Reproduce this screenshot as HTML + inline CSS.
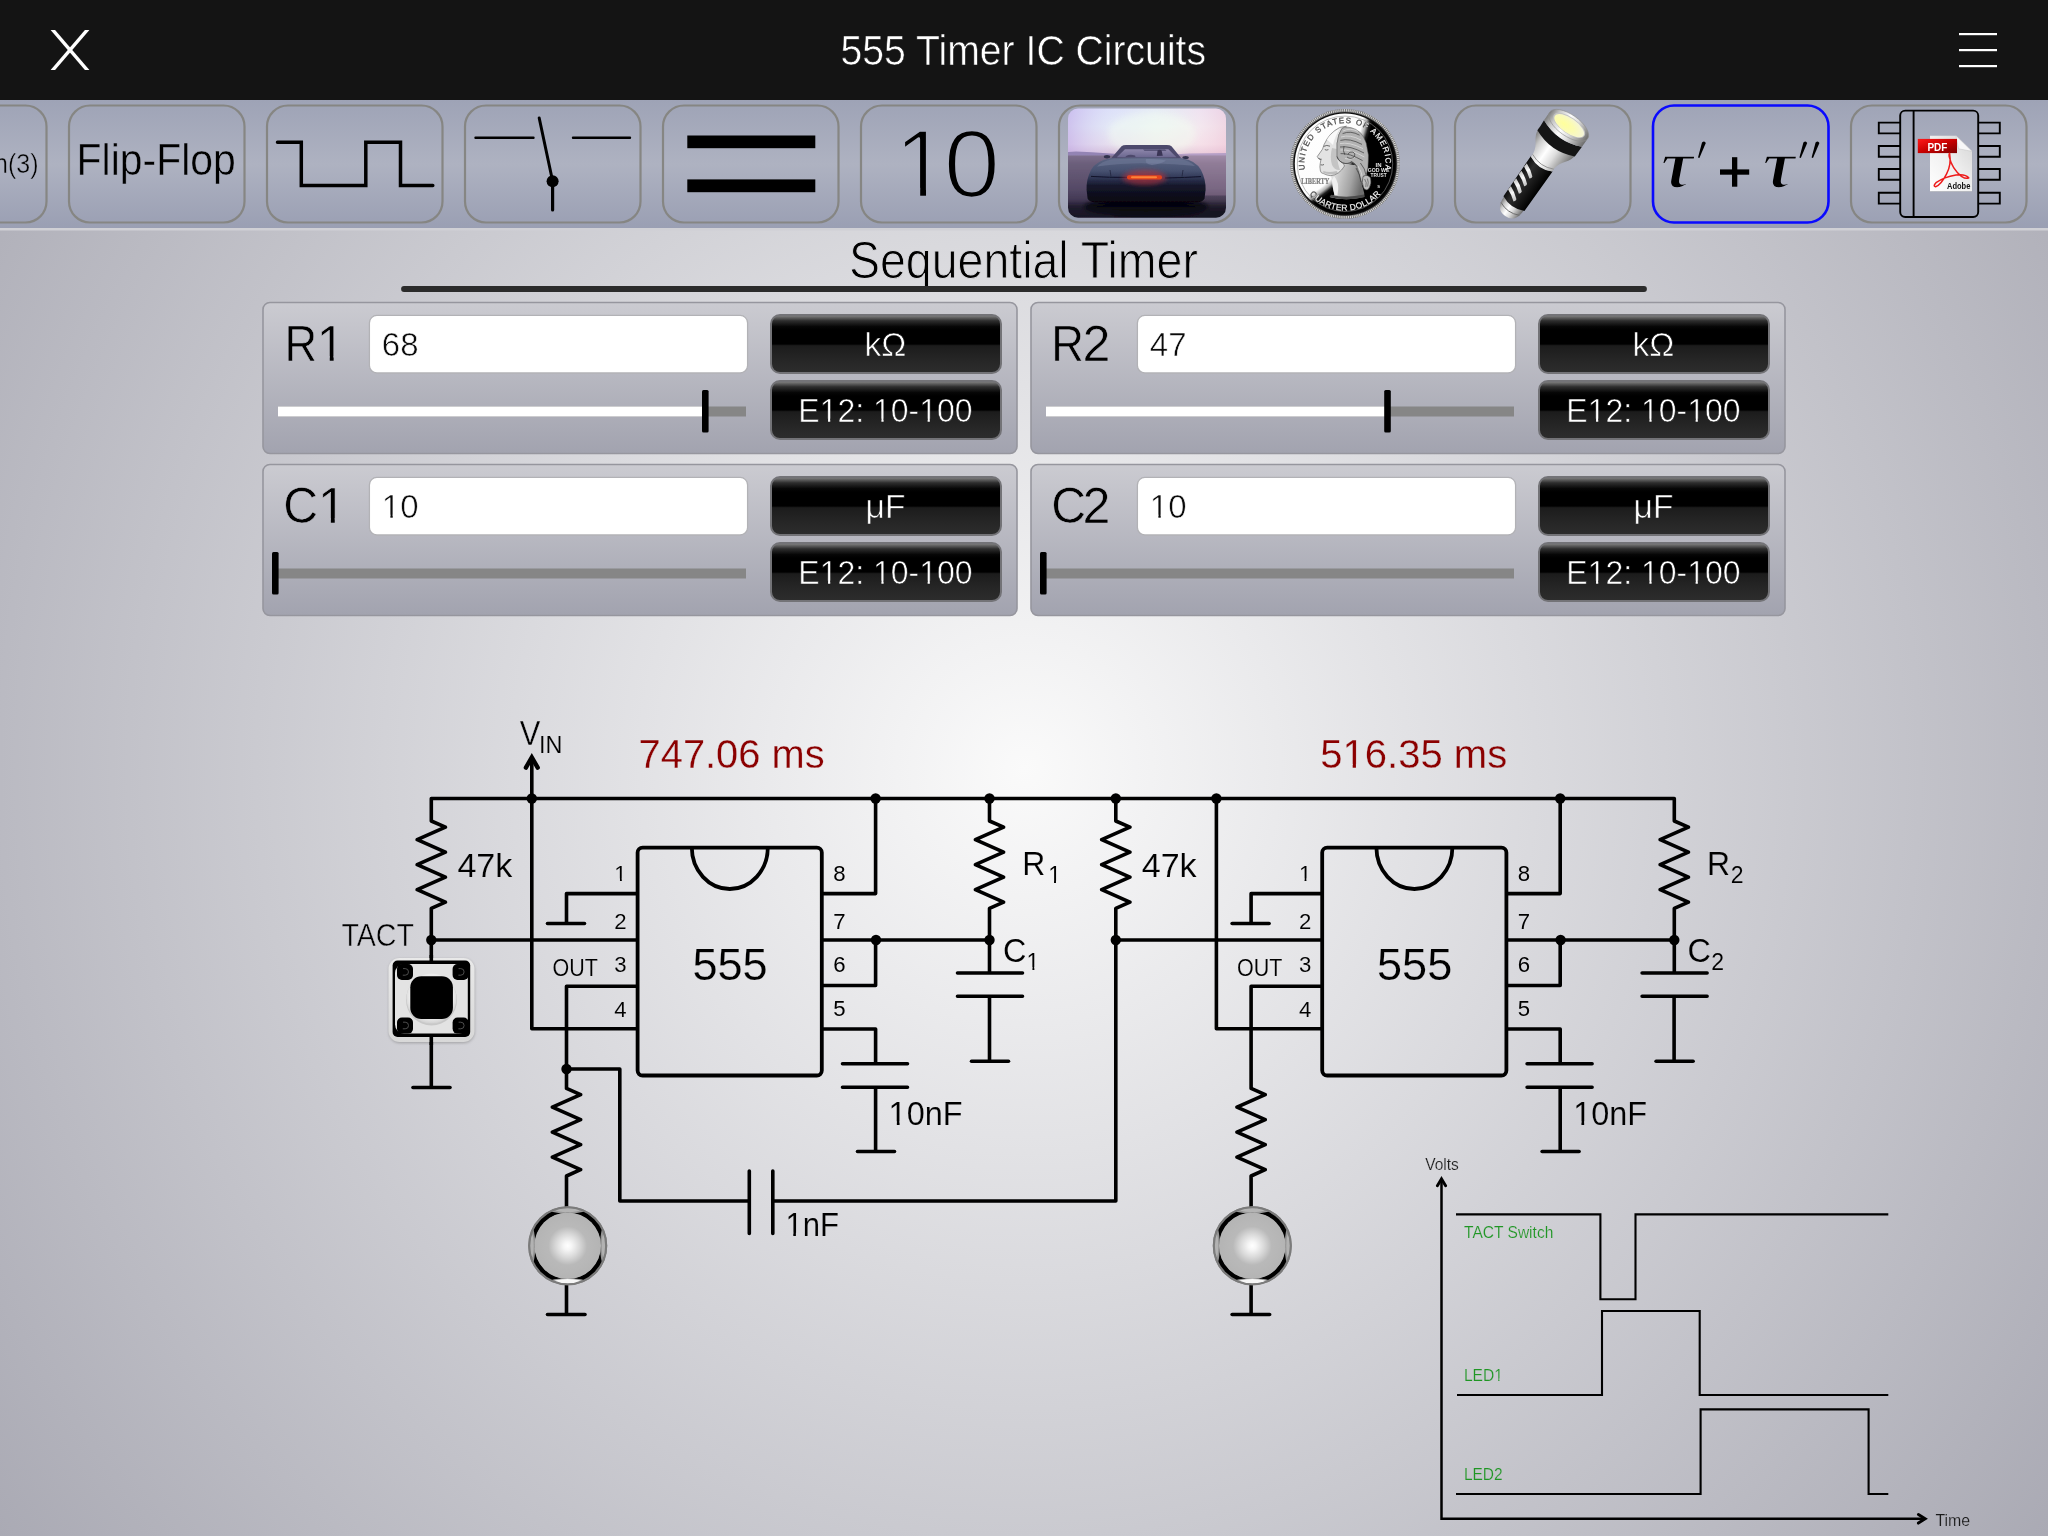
<!DOCTYPE html>
<html><head><meta charset="utf-8"><title>555 Timer IC Circuits</title>
<style>
html,body{margin:0;padding:0;background:#aaaab4;}
body{position:relative;width:2048px;height:1536px;overflow:hidden;font-family:"Liberation Sans",sans-serif;}
svg{display:block;will-change:transform;font-family:"Liberation Sans",sans-serif;}
</style></head><body>
<svg width="2048" height="1536" viewBox="0 0 2048 1536">
<defs>
<radialGradient id="bg" gradientUnits="userSpaceOnUse" cx="1024" cy="768" r="1280">
<stop offset="0" stop-color="#fafafa"/><stop offset="1" stop-color="#aaaab4"/></radialGradient>
<linearGradient id="tb" x1="0" y1="0" x2="0" y2="1">
<stop offset="0" stop-color="#9ea3b6"/><stop offset="0.5" stop-color="#aeb2c1"/><stop offset="1" stop-color="#9a9fb3"/></linearGradient>
<linearGradient id="pn" x1="0" y1="0" x2="0" y2="1">
<stop offset="0" stop-color="#cbcbd1"/><stop offset="1" stop-color="#a2a3af"/></linearGradient>
<linearGradient id="bk" x1="0" y1="0" x2="0" y2="1">
<stop offset="0" stop-color="#4d4d4d"/><stop offset="0.07" stop-color="#2b2b2b"/><stop offset="0.3" stop-color="#151515"/><stop offset="0.5" stop-color="#050505"/><stop offset="0.52" stop-color="#000"/><stop offset="1" stop-color="#000"/></linearGradient>
<linearGradient id="tbu" gradientUnits="userSpaceOnUse" x1="0" y1="100" x2="0" y2="228">
<stop offset="0" stop-color="#9ea3b6"/><stop offset="0.5" stop-color="#aeb2c1"/><stop offset="1" stop-color="#9a9fb3"/></linearGradient>
<linearGradient id="pnu1" gradientUnits="userSpaceOnUse" x1="0" y1="302.5" x2="0" y2="453.5">
<stop offset="0" stop-color="#cbcbd1"/><stop offset="1" stop-color="#a2a3af"/></linearGradient>
<linearGradient id="pnu2" gradientUnits="userSpaceOnUse" x1="0" y1="464.5" x2="0" y2="615.5">
<stop offset="0" stop-color="#cbcbd1"/><stop offset="1" stop-color="#a2a3af"/></linearGradient>

<radialGradient id="ledc" cx="0.5" cy="0.5" r="0.5">
<stop offset="0" stop-color="#ffffff"/><stop offset="0.12" stop-color="#f6f6f6"/><stop offset="0.35" stop-color="#d9d9d9"/><stop offset="0.58" stop-color="#b9b9b9"/><stop offset="1" stop-color="#b4b4b4"/></radialGradient>
<linearGradient id="swb" x1="0" y1="0" x2="0" y2="1"><stop offset="0" stop-color="#e9e9e9"/><stop offset="1" stop-color="#d8d8d8"/></linearGradient>
<radialGradient id="swc" cx="0.5" cy="0.45" r="0.55"><stop offset="0" stop-color="#f4f4f4"/><stop offset="0.8" stop-color="#ececec"/><stop offset="1" stop-color="#d0d0d0"/></radialGradient>
<filter id="sh" x="-20%" y="-20%" width="140%" height="140%"><feGaussianBlur stdDeviation="1.6"/></filter>
<filter id="b1" x="-20%" y="-20%" width="140%" height="140%"><feGaussianBlur stdDeviation="0.7"/></filter>


<!-- car -->
<clipPath id="carclip"><rect x="1068" y="108.6" width="158" height="109.2" rx="10"/></clipPath>
<linearGradient id="sky" x1="0" y1="0" x2="0" y2="1"><stop offset="0" stop-color="#dcdff8"/><stop offset="0.4" stop-color="#e8eef4"/><stop offset="0.72" stop-color="#ecdfe8"/><stop offset="0.9" stop-color="#d4b4cc"/><stop offset="1" stop-color="#b795bd"/></linearGradient>
<linearGradient id="skyh" x1="0" y1="0" x2="1" y2="0"><stop offset="0" stop-color="#bfa8e8" stop-opacity="0.7"/><stop offset="0.3" stop-color="#d8dcff" stop-opacity="0.25"/><stop offset="0.55" stop-color="#f4fff0" stop-opacity="0.3"/><stop offset="0.82" stop-color="#ffe1ea" stop-opacity="0.5"/><stop offset="1" stop-color="#f3c6d8" stop-opacity="0.65"/></linearGradient>
<linearGradient id="gnd" x1="0" y1="0" x2="0" y2="1"><stop offset="0" stop-color="#a08fa8"/><stop offset="0.12" stop-color="#86778e"/><stop offset="0.5" stop-color="#63566e"/><stop offset="0.8" stop-color="#30283e"/><stop offset="1" stop-color="#120e22"/></linearGradient>
<linearGradient id="carb" x1="0" y1="0" x2="0" y2="1"><stop offset="0" stop-color="#5c6684"/><stop offset="0.3" stop-color="#475170"/><stop offset="0.46" stop-color="#2e3553"/><stop offset="0.62" stop-color="#16182c"/><stop offset="1" stop-color="#06050f"/></linearGradient>
<linearGradient id="carw" x1="0" y1="0" x2="0" y2="1"><stop offset="0" stop-color="#8d86ab"/><stop offset="1" stop-color="#6c6890"/></linearGradient>
<radialGradient id="scan" cx="0.5" cy="0.5" r="0.5"><stop offset="0" stop-color="#ff9a3a"/><stop offset="0.5" stop-color="#f2481e"/><stop offset="1" stop-color="#b02428" stop-opacity="0"/></radialGradient>
<filter id="blr06" x="-5%" y="-5%" width="110%" height="110%"><feGaussianBlur stdDeviation="0.7"/></filter>
<filter id="blr2" x="-30%" y="-60%" width="160%" height="220%"><feGaussianBlur stdDeviation="2.2"/></filter>
<filter id="blr3" x="-30%" y="-30%" width="160%" height="160%"><feGaussianBlur stdDeviation="3"/></filter>
<!-- coin -->
<radialGradient id="coinf" gradientUnits="userSpaceOnUse" cx="1256" cy="100.4" r="140"><stop offset="0" stop-color="#fff"/><stop offset="0.775" stop-color="#fdfdfd"/><stop offset="0.803" stop-color="#b0b0b0"/><stop offset="0.826" stop-color="#1c1c1c"/><stop offset="0.845" stop-color="#000"/><stop offset="1" stop-color="#000"/></radialGradient>
<radialGradient id="coint" gradientUnits="userSpaceOnUse" cx="1256" cy="100.4" r="140"><stop offset="0" stop-color="#555"/><stop offset="0.795" stop-color="#4c4c4c"/><stop offset="0.815" stop-color="#f4f4f4"/><stop offset="1" stop-color="#f4f4f4"/></radialGradient>
<linearGradient id="coinh" x1="0" y1="0" x2="1" y2="0.25"><stop offset="0" stop-color="#f1f1f1"/><stop offset="0.35" stop-color="#c9c9c9"/><stop offset="0.7" stop-color="#a3a3a3"/><stop offset="1" stop-color="#6e6e6e"/></linearGradient>
<clipPath id="coinclip"><circle cx="1345" cy="163.8" r="50.3"/></clipPath>
<!-- flashlight -->
<linearGradient id="fls" x1="0" y1="0" x2="1" y2="0"><stop offset="0" stop-color="#7b7b7b"/><stop offset="0.18" stop-color="#c9c9c9"/><stop offset="0.42" stop-color="#ffffff"/><stop offset="0.62" stop-color="#dedede"/><stop offset="0.85" stop-color="#9b9b9b"/><stop offset="1" stop-color="#6c6c6c"/></linearGradient>
<linearGradient id="flb" x1="0" y1="0" x2="1" y2="0"><stop offset="0" stop-color="#0c0c0c"/><stop offset="0.3" stop-color="#2d2d2d"/><stop offset="0.55" stop-color="#1d1d1d"/><stop offset="1" stop-color="#000"/></linearGradient>
<radialGradient id="fll" cx="0.35" cy="0.6" r="0.75"><stop offset="0" stop-color="#ffff9c"/><stop offset="0.45" stop-color="#fbfbb4"/><stop offset="1" stop-color="#f3f3e2"/></radialGradient>
<linearGradient id="flslot" x1="0" y1="0" x2="1" y2="0.6"><stop offset="0" stop-color="#bdbdbd"/><stop offset="0.5" stop-color="#fafafa"/><stop offset="1" stop-color="#c9c9c9"/></linearGradient>
<!-- pdf -->
<linearGradient id="pdfp" x1="0" y1="1" x2="1" y2="0"><stop offset="0" stop-color="#ffffff"/><stop offset="0.5" stop-color="#f0f0f0"/><stop offset="1" stop-color="#d4d4d4"/></linearGradient>
<linearGradient id="pdfr" x1="0" y1="0" x2="1" y2="1"><stop offset="0" stop-color="#ff1a1a"/><stop offset="0.5" stop-color="#c80000"/><stop offset="1" stop-color="#7c0000"/></linearGradient>

</defs>
<rect x="0" y="0" width="2048" height="1536" fill="url(#bg)"/>
<rect x="0" y="0" width="2048" height="100" fill="#141414"/>
<g stroke="#fff" stroke-width="3.4" clip-path="inset(0)"><clipPath id="xc"><rect x="40" y="30" width="60" height="40"/></clipPath><g clip-path="url(#xc)"><line x1="50.7" y1="27.5" x2="89.3" y2="72.5"/><line x1="89.3" y1="27.5" x2="50.7" y2="72.5"/></g></g>
<text x="1023.3" y="65.3" font-size="42.4" text-anchor="middle" fill="#fff" textLength="365.5" lengthAdjust="spacingAndGlyphs" stroke="#141414" stroke-width="0.60" stroke-linejoin="round">555 Timer IC Circuits</text>
<rect x="1959" y="33" width="38" height="2.2" fill="#fff"/>
<rect x="1959" y="49" width="38" height="2.2" fill="#fff"/>
<rect x="1959" y="65" width="38" height="2.2" fill="#fff"/>
<rect x="0" y="100" width="2048" height="128" fill="url(#tb)"/>
<rect x="0" y="228" width="2048" height="2.5" fill="#d0d0d5"/>
<rect x="-129" y="105.5" width="175.5" height="117" rx="21" fill="none" stroke="#868683" stroke-width="2.2"/>
<rect x="69" y="105.5" width="175.5" height="117" rx="21" fill="none" stroke="#868683" stroke-width="2.2"/>
<rect x="267" y="105.5" width="175.5" height="117" rx="21" fill="none" stroke="#868683" stroke-width="2.2"/>
<rect x="465" y="105.5" width="175.5" height="117" rx="21" fill="none" stroke="#868683" stroke-width="2.2"/>
<rect x="663" y="105.5" width="175.5" height="117" rx="21" fill="none" stroke="#868683" stroke-width="2.2"/>
<rect x="861" y="105.5" width="175.5" height="117" rx="21" fill="none" stroke="#868683" stroke-width="2.2"/>
<rect x="1059" y="105.5" width="175.5" height="117" rx="21" fill="none" stroke="#868683" stroke-width="2.2"/>
<rect x="1257" y="105.5" width="175.5" height="117" rx="21" fill="none" stroke="#868683" stroke-width="2.2"/>
<rect x="1455" y="105.5" width="175.5" height="117" rx="21" fill="none" stroke="#868683" stroke-width="2.2"/>
<rect x="1653" y="105.5" width="175.5" height="117" rx="21" fill="none" stroke="#0a0aff" stroke-width="2.6"/>
<rect x="1851" y="105.5" width="175.5" height="117" rx="21" fill="none" stroke="#868683" stroke-width="2.2"/>
<text x="38.6" y="172.65" font-size="28.5" text-anchor="end" textLength="44.5" lengthAdjust="spacingAndGlyphs" stroke="url(#tbu)" stroke-width="0.50" stroke-linejoin="round">n(3)</text>
<text x="76.6" y="175.15" font-size="45.2" textLength="159.2" lengthAdjust="spacingAndGlyphs" stroke="url(#tbu)" stroke-width="0.50" stroke-linejoin="round">Flip-Flop</text>
<path d="M277.5,142.3 H301.3 V185.5 H365.8 V142.3 H400.5 V185.5 H432.8" fill="none" stroke="#000" stroke-width="3.5" stroke-linecap="round" stroke-linejoin="miter"/>
<g fill="none" stroke="#000" stroke-linecap="round"><path d="M475.5,137.8 H533.5 M573,137.8 H630" stroke-width="2.4"/><path d="M539.2,118 L552.6,181" stroke-width="3"/><path d="M552.6,181 V210" stroke-width="3.2"/></g><circle cx="552.6" cy="181.3" r="6" fill="#000"/>
<rect x="687.3" y="135.5" width="128" height="12.7" fill="#000"/><rect x="687.3" y="179.4" width="128" height="12.8" fill="#000"/>
<text x="894.6" y="197.15" font-size="96.4" stroke="url(#tbu)" stroke-width="2.70" stroke-linejoin="round">1</text><rect x="899.29" y="187.80" width="20.90" height="10.35" fill="url(#tbu)"/><rect x="926.01" y="187.80" width="20.14" height="10.35" fill="url(#tbu)"/>
<text x="943.4" y="197.15" font-size="96.4" textLength="56.6" lengthAdjust="spacingAndGlyphs" stroke="url(#tbu)" stroke-width="2.70" stroke-linejoin="round">0</text>
<g clip-path="url(#carclip)"><g filter="url(#blr06)">
<rect x="1064" y="104" width="166" height="56" fill="url(#sky)"/>
<rect x="1064" y="104" width="166" height="56" fill="url(#skyh)"/>
<ellipse cx="1152" cy="134" rx="44" ry="22" fill="#f4fff2" opacity="0.4" filter="url(#blr3)"/>
<path d="M1064,152.3 L1076,151.4 L1092,152.2 L1110,153.6 L1122,154.2 L1122,158 L1064,158 Z" fill="#9384b4"/>
<path d="M1176,154.2 L1190,153.4 L1210,153.2 L1230,153 L1230,158 L1176,158 Z" fill="#b59fc6"/>
<rect x="1064" y="155.5" width="166" height="66" fill="url(#gnd)"/>
<rect x="1064" y="155.5" width="50" height="66" fill="#3c3458" opacity="0.35"/>
<rect x="1180" y="155.5" width="50" height="40" fill="#a487aa" opacity="0.35"/>
<ellipse cx="1146" cy="207" rx="62" ry="9" fill="#05030f" filter="url(#blr2)"/>
<rect x="1064" y="204" width="166" height="16" fill="#0a0718" opacity="0.55" filter="url(#blr2)"/>
<path d="M1121.5,146.2 Q1123,144.9 1126,144.9 L1167,144.9 Q1170,144.9 1171.5,146.2 L1181.5,158.6 L1111,158.6 Z" fill="#4e4a6c"/>
<path d="M1125,149.3 L1168.4,149.3 L1176.5,157.2 L1116.8,157.2 Z" fill="url(#carw)"/>
<path d="M1143,149.2 h22 l1.5,1.8 h-22 Z" fill="#5a567a"/>
<path d="M1157.6,150.2 q2.2,-1.2 4,0.3 l1.2,5.2 l-6,0.4 Z" fill="#3b3656"/>
<path d="M1126,156 q4,-2.4 9,-0.6 l0.5,1.6 h-10 Z" fill="#4d4a6c"/>
<ellipse cx="1107" cy="156.8" rx="3.2" ry="1.7" fill="#33334d"/><ellipse cx="1185.6" cy="157.6" rx="3.2" ry="1.7" fill="#33334d"/>
<path d="M1111,158.2 Q1146,156.6 1182,158.2 Q1196,160.5 1201,170 Q1206,180 1205.6,190 L1204.5,198.5 Q1203,202 1196,202.8 L1096,202.8 Q1089,202 1087.6,198.5 L1086.6,190 Q1086,180 1091,170 Q1096,160.5 1111,158.2 Z" fill="url(#carb)"/>
<path d="M1112,159.2 Q1146,157.6 1181,159.2 Q1190,161 1195,166 Q1160,163 1146,163.4 Q1125,163 1097,166.5 Q1102,161 1112,159.2 Z" fill="#6a7391" opacity="0.75"/>
<path d="M1146,159 q14,-0.5 20,1.5 q-4,3 -14,4.5 q-8,-1 -6,-6 Z" fill="#7a84a3" opacity="0.6"/>
<path d="M1091,176.4 Q1110,177.6 1127,177.4 M1165,178 Q1186,177.6 1201,176.6" stroke="#11122a" stroke-width="1" fill="none"/>
<path d="M1110,170 l1,6.5 M1183,170 l-1,6.5" stroke="#1c1f38" stroke-width="0.7" fill="none"/>
<ellipse cx="1144.5" cy="177.5" rx="22" ry="7.5" fill="#c0303a" opacity="0.55" filter="url(#blr2)"/>
<rect x="1127" y="175.2" width="35" height="4.2" rx="2" fill="#e2431f" filter="url(#blr06)"/>
<rect x="1131" y="176.2" width="26" height="2" rx="1" fill="#ff8a3c" opacity="0.9"/>
</g></g>
<circle cx="1345" cy="163.8" r="54.8" fill="#6f6f6f"/>
<circle cx="1345" cy="163.8" r="53.5" fill="none" stroke="#dcdcdc" stroke-width="2.4" stroke-dasharray="0.95 0.95"/>
<circle cx="1345" cy="163.8" r="51.6" fill="#0c0c0c"/>
<circle cx="1345" cy="163.8" r="50.2" fill="url(#coinf)"/>
<circle cx="1345" cy="163.8" r="47.7" fill="none" stroke="#8e8e8e" stroke-width="0.7" opacity="0.85"/>
<g clip-path="url(#coinclip)">
<path d="M1352,168 Q1373,176 1371,197 L1340,201 Z" fill="#000" opacity="0.6" filter="url(#b1)"/>
<path d="M1330.8,175 L1331.9,179.9 L1332.9,187.7 L1334.5,195.3 L1329.6,197 Q1346,201.4 1364.4,197 L1364.2,192.9 Q1362,185 1360,177.3 Q1358,170 1356.9,165 L1338,164 Z" fill="url(#coinh)"/>
<path d="M1329.6,197 Q1346,201.4 1364.4,197 L1364,194.6 Q1346,198.6 1331,194.8 Z" fill="#4a4a4a"/>
<path d="M1334,176 Q1340,182 1337.5,195 L1334.5,195.3 L1332.9,187.7 L1331.9,179.9 Z" fill="#f2f2f2" opacity="0.9"/>
<path d="M1346.5,126.2 Q1339,126.5 1335,130.4 Q1330,134 1327.2,138.8 L1324.1,144.5 L1322.5,149.2 L1317.3,156.5 Q1317.6,158.8 1320.9,159.6 L1320.2,163.8 L1319.9,166.9 L1320.4,171 Q1321,173.4 1323.5,173.6 Q1327,175.4 1330.8,175.7 Q1339,175 1344.5,166 L1343.3,163.2 Q1337,160 1337.1,156.5 L1337.1,143.4 Q1338,134 1342,128.5 Z" fill="#e3e3e3" stroke="#707070" stroke-width="0.7" stroke-linejoin="round"/>
<g filter="url(#b1)">
<path d="M1332,148 Q1329.6,157 1332,165 Q1334.6,170.6 1340,170 Q1336.4,160 1336.8,149 Z" fill="#a0a0a0" opacity="0.45"/>
<path d="M1323,172.6 Q1329,175.6 1338,173.4 L1336.6,171 Q1329,173 1323.4,171 Z" fill="#9a9a9a" opacity="0.5"/>
<path d="M1327,139.5 Q1332,132 1340,128.6 Q1335,136 1333,145 Z" fill="#fafafa"/>
</g>
<path d="M1323.6,146.4 q3.2,-1.8 6.4,-0.2 M1324.8,149.6 q1.8,1 3.6,0 M1318.6,158.6 q1.6,1 3,0.6 M1320.6,164.8 q2,0.6 3.4,-0.3" stroke="#4c4c4c" stroke-width="0.8" fill="none"/>
<path d="M1342,128.5 Q1346.5,125.3 1355.8,129.4 Q1361,132 1363.6,137.2 Q1367,143 1367.3,149.2 Q1369,155 1368.3,160.6 Q1368.5,168 1366.5,174 Q1368.5,178 1367.3,180 L1362.1,185.1 Q1361,181 1360,177.3 Q1358.5,171 1356.9,166.9 Q1354,163 1351.7,161.7 Q1347,164.8 1343.3,163.2 Q1337,160 1337.1,156.5 L1337.1,143.4 Q1338,134 1342,128.5 Z" fill="#b2b2b2" stroke="#555" stroke-width="0.5"/>
<g fill="none" stroke="#dedede" stroke-width="1" opacity="0.75"><path d="M1343,131 q7,-3.6 15,0.4 M1341,137 q9,-3 20,3 M1340,143.6 q9,-2 23,5 M1340.4,150 q10,-1 24,7 M1345,158.6 q6,2 10,-1.4 M1358,166 q4,6 4.6,13"/></g>
<g fill="none" stroke="#3f3f3f" stroke-width="0.8" opacity="0.9"><path d="M1342.6,133.6 q8,-3.4 17,1.6 M1340.4,140.4 q9,-2.6 21.6,4 M1340,147 q10,-1.6 24,6 M1340.6,153.6 q9,-0.6 22,7 M1337.1,156.5 q2,6 8,7 q5,0.4 6.6,-1.8 q4,2 5.4,5 M1347,157 q4,3 7.4,-0.4 q1.6,-3 -1.4,-4.6 q-3.6,-0.6 -5,2 M1356,168 q4,6 5,14 M1360.4,163 q5,6 5.6,12 M1344,146 q-1.6,5 1,9"/></g>
<path d="M1363,176.4 q5,-2.6 7.6,1.6 q1.4,5.6 -1.6,10.4 q-3,3.4 -5.4,-0.4 q-2.4,-5.6 -0.6,-11.6 Z" fill="#bdbdbd" stroke="#2e2e2e" stroke-width="0.6"/>
<path d="M1364.6,179 q2.6,3 1.2,8 M1367.4,178.6 q1.6,3.6 0.2,8" stroke="#4a4a4a" stroke-width="0.6" fill="none"/>
</g>
<path id="ctop" d="M1304.75,169.82 A40.7,40.7 0 1 1 1385.25,169.82" fill="none"/>
<text font-size="8" fill="url(#coint)" stroke="url(#coint)" stroke-width="0.25"><textPath href="#ctop" textLength="139.9" lengthAdjust="spacing">UNITED STATES OF AMERICA</textPath></text>
<path id="cbot" d="M1309.41,194.19 A46.8,46.8 0 0 0 1380.59,194.19" fill="none"/>
<text font-size="8.5" fill="url(#coint)" stroke="url(#coint)" stroke-width="0.25"><textPath href="#cbot" textLength="80.9" lengthAdjust="spacing">QUARTER DOLLAR</textPath></text>
<text x="1301.2" y="183.9" font-family='"Liberation Serif",serif' font-weight="bold" font-size="8.2" fill="#8a8a8a" stroke="#555" stroke-width="0.2" textLength="28" lengthAdjust="spacingAndGlyphs">LIBERTY</text>
<text x="1378.6" y="167.4" text-anchor="middle" font-weight="bold" font-size="5.4" fill="#e4e4e4" textLength="6" lengthAdjust="spacingAndGlyphs">IN</text>
<text x="1378.6" y="172" text-anchor="middle" font-weight="bold" font-size="5.4" fill="#e4e4e4" textLength="21.5" lengthAdjust="spacingAndGlyphs">GOD WE</text>
<text x="1378.6" y="176.7" text-anchor="middle" font-weight="bold" font-size="5.4" fill="#e4e4e4" textLength="16" lengthAdjust="spacingAndGlyphs">TRUST</text>
<text x="1378.6" y="187.5" text-anchor="middle" font-weight="bold" font-size="4.2" fill="#ddd">S</text>
<g transform="translate(1506.2,214.6) rotate(35)">
<path d="M-12,-13 C-12,-4 -8.8,1.8 0,1.8 C8.8,1.8 12,-4 12,-13 Z" fill="url(#fls)"/>
<path d="M-11.2,-7 Q0,-1.6 11.2,-7" stroke="#6d6d6d" stroke-width="0.9" fill="none"/>
<path d="M-13.4,-62 L-12.8,-13.5 Q0,-7.2 12.8,-13.5 L13.2,-62 Q0,-55.6 -13.4,-62 Z" fill="url(#flb)"/>
<path d="M-12.6,-26 Q-6,-23.4 -0.4,-18.4 Q0.4,-16.4 -1.6,-15 Q-7,-19.4 -12.8,-21.6 Z" fill="url(#flslot)"/>
<path d="M-12.6,-35.4 Q-6,-32.8 -0.4,-27.799999999999997 Q0.4,-25.799999999999997 -1.6,-24.4 Q-7,-28.799999999999997 -12.8,-31.0 Z" fill="url(#flslot)"/>
<path d="M-12.6,-44.6 Q-6,-42.0 -0.4,-37.0 Q0.4,-35.0 -1.6,-33.6 Q-7,-38.0 -12.8,-40.2 Z" fill="url(#flslot)"/>
<path d="M-12.6,-53.8 Q-6,-51.199999999999996 -0.4,-46.199999999999996 Q0.4,-44.199999999999996 -1.6,-42.8 Q-7,-47.199999999999996 -12.8,-49.4 Z" fill="url(#flslot)"/>
<path d="M-12.8,-61.5 Q0,-55.3 12.8,-61.5 L13,-66 C14,-76 22.8,-78 22.8,-90 L-22.8,-90 C-22.8,-78 -14,-76 -13,-66 Z" fill="url(#fls)"/>
<path d="M-12.9,-64.5 Q0,-58.3 12.9,-64.5" stroke="#8a8a8a" stroke-width="0.8" fill="none"/>
<path d="M-22.8,-92 L-22.8,-87 Q0,-76.6 22.8,-87 L23.2,-99 Q0,-88.6 -23.2,-99 Z" fill="#151515"/>
<path d="M-23.2,-99 Q0,-88.6 23.2,-99 L23.2,-109 L-23.2,-109 Z" fill="url(#fls)"/>
<ellipse cx="0" cy="-109" rx="23.2" ry="10.8" fill="url(#fls)"/>
<ellipse cx="0" cy="-109" rx="23.2" ry="10.8" fill="none" stroke="#8f8f8f" stroke-width="0.6"/>
<ellipse cx="0.4" cy="-109.2" rx="18.6" ry="8.2" fill="#c4c4c4"/>
<ellipse cx="0.6" cy="-109" rx="17.4" ry="7.4" fill="url(#fll)"/>
</g>
<text x="1660.8" y="186.8" font-family='"Liberation Serif",serif' font-weight="bold" font-style="italic" font-size="67" textLength="32.6" lengthAdjust="spacingAndGlyphs" stroke="url(#tbu)" stroke-width="1.7">τ</text>
<text x="1762.4" y="186.8" font-family='"Liberation Serif",serif' font-weight="bold" font-style="italic" font-size="67" textLength="32.6" lengthAdjust="spacingAndGlyphs" stroke="url(#tbu)" stroke-width="1.7">τ</text>
<rect x="1720" y="169.4" width="29.2" height="5.3" fill="#000"/><rect x="1732" y="157.2" width="5.3" height="29.5" fill="#000"/>
<path d="M1702.0,142.6 Q1704.3999999999999,140.2 1705.8,143 L1699.3999999999999,158 L1698.0,157.6 Z" fill="#000"/>
<path d="M1803.4,142.6 Q1805.8,140.2 1807.2,143 L1800.8,158 L1799.4,157.6 Z" fill="#000"/>
<path d="M1815.6000000000001,142.6 Q1818.0,140.2 1819.4,143 L1813.0,158 L1811.6000000000001,157.6 Z" fill="#000"/>
<g fill="none" stroke="#000" stroke-width="1.9">
<rect x="1900.2" y="110.6" width="78" height="106.4" rx="5"/>
<path d="M1913.6,110.6 V217"/>
<path d="M1900.2,122.6 H1878.8 V133.4 H1900.2"/>
<path d="M1978.2,122.6 H1999.8 V133.4 H1978.2"/>
<path d="M1900.2,146 H1878.8 V156.8 H1900.2"/>
<path d="M1978.2,146 H1999.8 V156.8 H1978.2"/>
<path d="M1900.2,169 H1878.8 V179.8 H1900.2"/>
<path d="M1978.2,169 H1999.8 V179.8 H1978.2"/>
<path d="M1900.2,192.8 H1878.8 V203.60000000000002 H1900.2"/>
<path d="M1978.2,192.8 H1999.8 V203.60000000000002 H1978.2"/>
</g>
<g transform="translate(0,-3.7)">
<path d="M1930.2,139.8 H1956 L1972.2,155.6 V195.4 H1930.2 Z" fill="#9a9a9a" opacity="0.5" filter="url(#b1)"/>
<path d="M1930,139.4 H1956 L1972,155 V195 H1930 Z" fill="url(#pdfp)"/>
<path d="M1956,139.4 L1972,155 L1958.5,152.5 Z" fill="#f8f8f8" stroke="#c4c4c4" stroke-width="0.5"/>
<rect x="1917.8" y="142.6" width="39.2" height="14.2" fill="url(#pdfr)"/>
<text x="1937.4" y="154.3" text-anchor="middle" font-weight="bold" font-size="11.4" fill="#fff" textLength="20" lengthAdjust="spacingAndGlyphs">PDF</text>
<path d="M1949.6,157 Q1951.6,168 1946.6,177.5 Q1941,188.5 1935.6,190.4 Q1932.6,190 1936,186.4 Q1944,180.5 1956,178.6 Q1966,177.4 1968.8,181.6 Q1966,183 1961.4,180 Q1952,172.6 1949.2,160.4 Q1948.8,157.4 1949.6,157 Z" fill="none" stroke="#ee1c1c" stroke-width="1.5" stroke-linejoin="round"/>
<text x="1970.4" y="193.2" text-anchor="end" font-weight="bold" font-size="9.6" fill="#111" textLength="23.4" lengthAdjust="spacingAndGlyphs">Adobe</text>
</g>
<text x="1023.4" y="277.9" font-size="52" text-anchor="middle" textLength="349" lengthAdjust="spacingAndGlyphs" stroke="url(#bg)" stroke-width="1.00" stroke-linejoin="round">Sequential Timer</text>
<line x1="404" y1="289" x2="1644" y2="289" stroke="#2b2b2b" stroke-width="5.8" stroke-linecap="round"/>
<rect x="263" y="302.5" width="754" height="151" rx="7" fill="url(#pn)" stroke="#96969e" stroke-width="1.6"/>
<text x="284.56" y="361.08" font-size="50.2" textLength="32.6" lengthAdjust="spacingAndGlyphs" stroke="url(#pnu1)" stroke-width="0.56" stroke-linejoin="round">R</text>
<text x="344.78" y="361.08" font-size="50.2" text-anchor="end" stroke="url(#pnu1)" stroke-width="0.56" stroke-linejoin="round">1</text><rect x="319.10" y="356.25" width="10.66" height="5.83" fill="url(#pnu1)"/><rect x="333.64" y="356.25" width="10.27" height="5.83" fill="url(#pnu1)"/>
<rect x="369.4" y="315.4" width="378.2" height="57.6" rx="7.5" fill="#fff" stroke="#b2b2b6" stroke-width="1.3"/>
<text x="381.8" y="356.27" font-size="33" fill="#0a0a0a" stroke="#fff" stroke-width="0.55" stroke-linejoin="round">68</text>
<linearGradient id="bku10" gradientUnits="userSpaceOnUse" x1="0" y1="315.0" x2="0" y2="373.0"><stop offset="0" stop-color="#8c8c8c"/><stop offset="0.035" stop-color="#6a6a6a"/><stop offset="0.1" stop-color="#2e2e2e"/><stop offset="0.2" stop-color="#060606"/><stop offset="0.26" stop-color="#000"/><stop offset="0.5" stop-color="#000"/><stop offset="0.53" stop-color="#1c1c1c"/><stop offset="0.75" stop-color="#252525"/><stop offset="1" stop-color="#2d2d2d"/></linearGradient>
<rect x="771" y="315.0" width="230" height="58" rx="9" fill="url(#bku10)" stroke="#737377" stroke-width="2"/>
<text x="885.5" y="356.21" font-size="33.6" text-anchor="middle" fill="#fff" stroke="url(#bku10)" stroke-width="0.62" stroke-linejoin="round">kΩ</text>
<linearGradient id="bku11" gradientUnits="userSpaceOnUse" x1="0" y1="381.0" x2="0" y2="439.0"><stop offset="0" stop-color="#8c8c8c"/><stop offset="0.035" stop-color="#6a6a6a"/><stop offset="0.1" stop-color="#2e2e2e"/><stop offset="0.2" stop-color="#060606"/><stop offset="0.26" stop-color="#000"/><stop offset="0.5" stop-color="#000"/><stop offset="0.53" stop-color="#1c1c1c"/><stop offset="0.75" stop-color="#252525"/><stop offset="1" stop-color="#2d2d2d"/></linearGradient>
<rect x="771" y="381.0" width="230" height="58" rx="9" fill="url(#bku11)" stroke="#737377" stroke-width="2"/>
<text x="885.5" y="422.21" font-size="33.6" text-anchor="middle" fill="#fff" textLength="174.3" lengthAdjust="spacingAndGlyphs" stroke="url(#bku11)" stroke-width="0.62" stroke-linejoin="round">E12: 10-100</text><rect x="820.51" y="418.71" width="7.53" height="4.50" fill="url(#bku11)"/><rect x="830.25" y="418.71" width="7.28" height="4.50" fill="url(#bku11)"/><rect x="873.86" y="418.71" width="7.54" height="4.50" fill="url(#bku11)"/><rect x="883.60" y="418.71" width="7.29" height="4.50" fill="url(#bku11)"/><rect x="920.09" y="418.71" width="7.53" height="4.50" fill="url(#bku11)"/><rect x="929.83" y="418.71" width="7.28" height="4.50" fill="url(#bku11)"/>
<rect x="278" y="406.5" width="468" height="10" fill="#868686"/>
<rect x="278" y="406.5" width="427.3" height="10" fill="#fff"/>
<rect x="702.0" y="390.0" width="6.6" height="42.5" rx="1.5" fill="#000"/>
<rect x="1031" y="302.5" width="754" height="151" rx="7" fill="url(#pn)" stroke="#96969e" stroke-width="1.6"/>
<text x="1051.36" y="361.08" font-size="50.2" textLength="32.6" lengthAdjust="spacingAndGlyphs" stroke="url(#pnu1)" stroke-width="0.56" stroke-linejoin="round">R</text>
<text x="1110.35" y="361.08" font-size="50.2" text-anchor="end" stroke="url(#pnu1)" stroke-width="0.56" stroke-linejoin="round">2</text>
<rect x="1137.4" y="315.4" width="378.2" height="57.6" rx="7.5" fill="#fff" stroke="#b2b2b6" stroke-width="1.3"/>
<text x="1149.8" y="356.27" font-size="33" fill="#0a0a0a" stroke="#fff" stroke-width="0.55" stroke-linejoin="round">47</text>
<rect x="1539" y="315.0" width="230" height="58" rx="9" fill="url(#bku10)" stroke="#737377" stroke-width="2"/>
<text x="1653.5" y="356.21" font-size="33.6" text-anchor="middle" fill="#fff" stroke="url(#bku10)" stroke-width="0.62" stroke-linejoin="round">kΩ</text>
<rect x="1539" y="381.0" width="230" height="58" rx="9" fill="url(#bku11)" stroke="#737377" stroke-width="2"/>
<text x="1653.5" y="422.21" font-size="33.6" text-anchor="middle" fill="#fff" textLength="174.3" lengthAdjust="spacingAndGlyphs" stroke="url(#bku11)" stroke-width="0.62" stroke-linejoin="round">E12: 10-100</text><rect x="1588.51" y="418.71" width="7.53" height="4.50" fill="url(#bku11)"/><rect x="1598.25" y="418.71" width="7.28" height="4.50" fill="url(#bku11)"/><rect x="1641.86" y="418.71" width="7.54" height="4.50" fill="url(#bku11)"/><rect x="1651.60" y="418.71" width="7.29" height="4.50" fill="url(#bku11)"/><rect x="1688.09" y="418.71" width="7.53" height="4.50" fill="url(#bku11)"/><rect x="1697.83" y="418.71" width="7.28" height="4.50" fill="url(#bku11)"/>
<rect x="1046" y="406.5" width="468" height="10" fill="#868686"/>
<rect x="1046" y="406.5" width="341.5" height="10" fill="#fff"/>
<rect x="1384.2" y="390.0" width="6.6" height="42.5" rx="1.5" fill="#000"/>
<rect x="263" y="464.5" width="754" height="151" rx="7" fill="url(#pn)" stroke="#96969e" stroke-width="1.6"/>
<text x="283.13" y="523.08" font-size="50.2" textLength="34.8" lengthAdjust="spacingAndGlyphs" stroke="url(#pnu2)" stroke-width="0.56" stroke-linejoin="round">C</text>
<text x="345.88" y="523.08" font-size="50.2" text-anchor="end" stroke="url(#pnu2)" stroke-width="0.56" stroke-linejoin="round">1</text><rect x="320.20" y="518.25" width="10.66" height="5.83" fill="url(#pnu2)"/><rect x="334.74" y="518.25" width="10.27" height="5.83" fill="url(#pnu2)"/>
<rect x="369.4" y="477.4" width="378.2" height="57.6" rx="7.5" fill="#fff" stroke="#b2b2b6" stroke-width="1.3"/>
<text x="381.8" y="518.27" font-size="33" fill="#0a0a0a" stroke="#fff" stroke-width="0.55" stroke-linejoin="round">10</text><rect x="382.74" y="514.73" width="7.64" height="4.54" fill="#fff"/><rect x="392.74" y="514.73" width="7.38" height="4.54" fill="#fff"/>
<linearGradient id="bku20" gradientUnits="userSpaceOnUse" x1="0" y1="477.0" x2="0" y2="535.0"><stop offset="0" stop-color="#8c8c8c"/><stop offset="0.035" stop-color="#6a6a6a"/><stop offset="0.1" stop-color="#2e2e2e"/><stop offset="0.2" stop-color="#060606"/><stop offset="0.26" stop-color="#000"/><stop offset="0.5" stop-color="#000"/><stop offset="0.53" stop-color="#1c1c1c"/><stop offset="0.75" stop-color="#252525"/><stop offset="1" stop-color="#2d2d2d"/></linearGradient>
<rect x="771" y="477.0" width="230" height="58" rx="9" fill="url(#bku20)" stroke="#737377" stroke-width="2"/>
<text x="885.5" y="518.21" font-size="33.6" text-anchor="middle" fill="#fff" stroke="url(#bku20)" stroke-width="0.62" stroke-linejoin="round">μF</text>
<linearGradient id="bku21" gradientUnits="userSpaceOnUse" x1="0" y1="543.0" x2="0" y2="601.0"><stop offset="0" stop-color="#8c8c8c"/><stop offset="0.035" stop-color="#6a6a6a"/><stop offset="0.1" stop-color="#2e2e2e"/><stop offset="0.2" stop-color="#060606"/><stop offset="0.26" stop-color="#000"/><stop offset="0.5" stop-color="#000"/><stop offset="0.53" stop-color="#1c1c1c"/><stop offset="0.75" stop-color="#252525"/><stop offset="1" stop-color="#2d2d2d"/></linearGradient>
<rect x="771" y="543.0" width="230" height="58" rx="9" fill="url(#bku21)" stroke="#737377" stroke-width="2"/>
<text x="885.5" y="584.21" font-size="33.6" text-anchor="middle" fill="#fff" textLength="174.3" lengthAdjust="spacingAndGlyphs" stroke="url(#bku21)" stroke-width="0.62" stroke-linejoin="round">E12: 10-100</text><rect x="820.51" y="580.71" width="7.53" height="4.50" fill="url(#bku21)"/><rect x="830.25" y="580.71" width="7.28" height="4.50" fill="url(#bku21)"/><rect x="873.86" y="580.71" width="7.54" height="4.50" fill="url(#bku21)"/><rect x="883.60" y="580.71" width="7.29" height="4.50" fill="url(#bku21)"/><rect x="920.09" y="580.71" width="7.53" height="4.50" fill="url(#bku21)"/><rect x="929.83" y="580.71" width="7.28" height="4.50" fill="url(#bku21)"/>
<rect x="278" y="568.5" width="468" height="10" fill="#868686"/>
<rect x="272.0" y="552.0" width="6.6" height="42.5" rx="1.5" fill="#000"/>
<rect x="1031" y="464.5" width="754" height="151" rx="7" fill="url(#pn)" stroke="#96969e" stroke-width="1.6"/>
<text x="1051.13" y="523.08" font-size="50.2" textLength="34.8" lengthAdjust="spacingAndGlyphs" stroke="url(#pnu2)" stroke-width="0.56" stroke-linejoin="round">C</text>
<text x="1110.35" y="523.08" font-size="50.2" text-anchor="end" stroke="url(#pnu2)" stroke-width="0.56" stroke-linejoin="round">2</text>
<rect x="1137.4" y="477.4" width="378.2" height="57.6" rx="7.5" fill="#fff" stroke="#b2b2b6" stroke-width="1.3"/>
<text x="1149.8" y="518.27" font-size="33" fill="#0a0a0a" stroke="#fff" stroke-width="0.55" stroke-linejoin="round">10</text><rect x="1150.74" y="514.73" width="7.64" height="4.54" fill="#fff"/><rect x="1160.74" y="514.73" width="7.38" height="4.54" fill="#fff"/>
<rect x="1539" y="477.0" width="230" height="58" rx="9" fill="url(#bku20)" stroke="#737377" stroke-width="2"/>
<text x="1653.5" y="518.21" font-size="33.6" text-anchor="middle" fill="#fff" stroke="url(#bku20)" stroke-width="0.62" stroke-linejoin="round">μF</text>
<rect x="1539" y="543.0" width="230" height="58" rx="9" fill="url(#bku21)" stroke="#737377" stroke-width="2"/>
<text x="1653.5" y="584.21" font-size="33.6" text-anchor="middle" fill="#fff" textLength="174.3" lengthAdjust="spacingAndGlyphs" stroke="url(#bku21)" stroke-width="0.62" stroke-linejoin="round">E12: 10-100</text><rect x="1588.51" y="580.71" width="7.53" height="4.50" fill="url(#bku21)"/><rect x="1598.25" y="580.71" width="7.28" height="4.50" fill="url(#bku21)"/><rect x="1641.86" y="580.71" width="7.54" height="4.50" fill="url(#bku21)"/><rect x="1651.60" y="580.71" width="7.29" height="4.50" fill="url(#bku21)"/><rect x="1688.09" y="580.71" width="7.53" height="4.50" fill="url(#bku21)"/><rect x="1697.83" y="580.71" width="7.28" height="4.50" fill="url(#bku21)"/>
<rect x="1046" y="568.5" width="468" height="10" fill="#868686"/>
<rect x="1040.0" y="552.0" width="6.6" height="42.5" rx="1.5" fill="#000"/>
<g fill="none" stroke="#000" stroke-width="3.6" stroke-linejoin="round" stroke-linecap="butt">
<path d="M431.3,962 V908.4 L445.4,902.2 L417.2,889.7 L445.4,877.2 L417.2,864.7 L445.4,852.2 L417.2,839.7 L445.4,827.2 L431.3,821.0 V798.5 H1674.3 V821 L1688.4,827.2 L1660.2,839.7 L1688.4,852.2 L1660.2,864.7 L1688.4,877.2 L1660.2,889.7 L1688.4,902.2 L1674.3,908.4 V973"/>
<path d="M431.3,940 H637"/>
<path d="M431.3,1038 V1087.5"/>
<path d="M413,1087.5 H450" stroke-linecap="round"/>
<path d="M531.8,759 V1028.8 H637"/>
<path d="M525.9,767.6 L531.8,757.4 L537.7,767.6" stroke-width="4.4" stroke-linecap="round" stroke-linejoin="miter"/>
<rect x="637.6" y="847.6" width="184.2" height="227.9" rx="5" stroke-width="3.8"/>
<path d="M691.8,847.6 A38,41.4 0 0 0 767.8,847.6" stroke-width="3.8"/>
<path d="M637,893.6 H566.5 V923.5"/>
<path d="M547.5,923.5 H584.5" stroke-linecap="round"/>
<path d="M637,986.3 H566.5 V1088.4 L580.6,1094.7 L552.4,1107.2 L580.6,1119.7 L552.4,1132.2 L580.6,1144.7 L552.4,1157.2 L580.6,1169.7 L566.5,1176.0 V1210"/>
<path d="M566.5,1282 V1314.5"/>
<path d="M547.5,1314.5 H585" stroke-linecap="round"/>
<path d="M822,893.6 H875.6 V798.5"/>
<path d="M822,940 H989.5"/>
<path d="M822,985.5 H875.6 V940"/>
<path d="M822,1029 H875.6 V1063.7"/>
<path d="M842.5,1063.7 H907.5 M842.5,1087.3 H907.5" stroke-linecap="round"/>
<path d="M875.6,1087.3 V1151.5"/>
<path d="M857.5,1151.5 H894.5" stroke-linecap="round"/>
<path d="M989.5,798.5 V821 L1003.6,827.2 L975.4,839.7 L1003.6,852.2 L975.4,864.7 L1003.6,877.2 L975.4,889.7 L1003.6,902.2 L989.5,908.4 V973"/>
<path d="M957.5,973 H1022.5 M957.5,996.3 H1022.5" stroke-linecap="round"/>
<path d="M989.5,996.3 V1061.3"/>
<path d="M971.5,1061.3 H1008.5" stroke-linecap="round"/>
<rect x="1322.2" y="847.6" width="184.2" height="227.9" rx="5" stroke-width="3.8"/>
<path d="M1376.4,847.6 A38,41.4 0 0 0 1452.4,847.6" stroke-width="3.8"/>
<path d="M1321.6,893.6 H1251.1 V923.5"/>
<path d="M1232.1,923.5 H1269.1" stroke-linecap="round"/>
<path d="M1321.6,986.3 H1251.1 V1088.4 L1265.2,1094.7 L1237.0,1107.2 L1265.2,1119.7 L1237.0,1132.2 L1265.2,1144.7 L1237.0,1157.2 L1265.2,1169.7 L1251.1,1176.0 V1210"/>
<path d="M1251.1,1282 V1314.5"/>
<path d="M1232.1,1314.5 H1269.6" stroke-linecap="round"/>
<path d="M1506.6,893.6 H1560.2 V798.5"/>
<path d="M1506.6,940 H1674.1"/>
<path d="M1506.6,985.5 H1560.2 V940"/>
<path d="M1506.6,1029 H1560.2 V1063.7"/>
<path d="M1527.1,1063.7 H1592.1 M1527.1,1087.3 H1592.1" stroke-linecap="round"/>
<path d="M1560.2,1087.3 V1151.5"/>
<path d="M1542.1,1151.5 H1579.1" stroke-linecap="round"/>
<path d="M1642.1,973 H1707.1 M1642.1,996.3 H1707.1" stroke-linecap="round"/>
<path d="M1674.1,996.3 V1061.3"/>
<path d="M1656.1,1061.3 H1693.1" stroke-linecap="round"/>
<path d="M1115.8,798.5 V821 L1129.9,827.2 L1101.7,839.7 L1129.9,852.2 L1101.7,864.7 L1129.9,877.2 L1101.7,889.7 L1129.9,902.2 L1115.8,908.4 V1201 H772.8"/>
<path d="M1115.8,940 H1321.5"/>
<path d="M749.3,1171 V1233.5 M772.8,1171 V1233.5" stroke-linecap="round"/>
<path d="M749.3,1201 H619.8 V1069 H566.5"/>
<path d="M1216.4,798.5 V1028.8 H1321.5"/>
</g>
<g fill="#000">
<circle cx="531.8" cy="798.5" r="5.2"/>
<circle cx="875.6" cy="798.5" r="5.2"/>
<circle cx="989.5" cy="798.5" r="5.2"/>
<circle cx="1115.8" cy="798.5" r="5.2"/>
<circle cx="1216.4" cy="798.5" r="5.2"/>
<circle cx="1560.2" cy="798.5" r="5.2"/>
<circle cx="431.3" cy="940" r="5.2"/>
<circle cx="876" cy="940" r="5.2"/>
<circle cx="989.5" cy="940" r="5.2"/>
<circle cx="1115.8" cy="940" r="5.2"/>
<circle cx="1560.6" cy="940" r="5.2"/>
<circle cx="1674.3" cy="940" r="5.2"/>
<circle cx="566.5" cy="1069" r="5.2"/>
</g>
<g fill="#000">
<text x="519.8" y="745.05" font-size="34.6" textLength="20.6" lengthAdjust="spacingAndGlyphs" stroke="url(#bg)" stroke-width="0.30" stroke-linejoin="round">V</text>
<text x="538.9" y="753.18" font-size="23" textLength="23.4" lengthAdjust="spacingAndGlyphs" stroke="url(#bg)" stroke-width="0.15" stroke-linejoin="round">IN</text>
<text x="341.4" y="945.95" font-size="31.4" textLength="72.6" lengthAdjust="spacingAndGlyphs" stroke="url(#bg)" stroke-width="0.50" stroke-linejoin="round">TACT</text>
<text x="457.4" y="876.68" font-size="34" textLength="55" lengthAdjust="spacingAndGlyphs" stroke="url(#bg)" stroke-width="0.15" stroke-linejoin="round">47k</text>
<text x="1141.7" y="876.68" font-size="34" textLength="55" lengthAdjust="spacingAndGlyphs" stroke="url(#bg)" stroke-width="0.15" stroke-linejoin="round">47k</text>
<text x="1022.3" y="875.28" font-size="34" textLength="23" lengthAdjust="spacingAndGlyphs" stroke="url(#bg)" stroke-width="0.15" stroke-linejoin="round">R</text>
<text x="1048.2" y="883.35" font-size="23" stroke="url(#bg)" stroke-width="0.10" stroke-linejoin="round">1</text><rect x="1048.60" y="880.78" width="5.43" height="3.57" fill="url(#bg)"/><rect x="1055.97" y="880.78" width="5.25" height="3.57" fill="url(#bg)"/>
<text x="1002.9" y="961.58" font-size="34" textLength="23.4" lengthAdjust="spacingAndGlyphs" stroke="url(#bg)" stroke-width="0.15" stroke-linejoin="round">C</text>
<text x="1026.6" y="969.75" font-size="23" stroke="url(#bg)" stroke-width="0.10" stroke-linejoin="round">1</text><rect x="1027.00" y="967.18" width="5.43" height="3.57" fill="url(#bg)"/><rect x="1034.37" y="967.18" width="5.25" height="3.57" fill="url(#bg)"/>
<text x="888.6" y="1124.67" font-size="33" textLength="74" lengthAdjust="spacingAndGlyphs" stroke="url(#bg)" stroke-width="0.15" stroke-linejoin="round">10nF</text><rect x="889.70" y="1121.37" width="7.14" height="4.30" fill="url(#bg)"/><rect x="899.56" y="1121.37" width="6.89" height="4.30" fill="url(#bg)"/>
<text x="730.05" y="979.5" font-size="44.1" text-anchor="middle" textLength="75.2" lengthAdjust="spacingAndGlyphs" stroke="url(#bg)" stroke-width="0.20" stroke-linejoin="round">555</text>
<text x="575.15" y="975.68" font-size="23.8" text-anchor="middle" textLength="45.4" lengthAdjust="spacingAndGlyphs" stroke="url(#bg)" stroke-width="0.15" stroke-linejoin="round">OUT</text>
<text x="620.5" y="881.05" font-size="22.2" text-anchor="middle" stroke="url(#bg)" stroke-width="0.10" stroke-linejoin="round">1</text><rect x="614.67" y="878.54" width="5.29" height="3.51" fill="url(#bg)"/><rect x="621.82" y="878.54" width="5.12" height="3.51" fill="url(#bg)"/>
<text x="620.5" y="928.95" font-size="22.2" text-anchor="middle" stroke="url(#bg)" stroke-width="0.10" stroke-linejoin="round">2</text>
<text x="620.5" y="972.25" font-size="22.2" text-anchor="middle" stroke="url(#bg)" stroke-width="0.10" stroke-linejoin="round">3</text>
<text x="620.5" y="1016.85" font-size="22.2" text-anchor="middle" stroke="url(#bg)" stroke-width="0.10" stroke-linejoin="round">4</text>
<text x="839.3" y="881.0" font-size="22.2" text-anchor="middle">8</text>
<text x="839.3" y="928.5" font-size="22.2" text-anchor="middle">7</text>
<text x="839.3" y="971.6" font-size="22.2" text-anchor="middle">6</text>
<text x="839.3" y="1016.1" font-size="22.2" text-anchor="middle">5</text>
<text x="1706.9" y="875.28" font-size="34" textLength="23" lengthAdjust="spacingAndGlyphs" stroke="url(#bg)" stroke-width="0.15" stroke-linejoin="round">R</text>
<text x="1730.8000000000002" y="883.35" font-size="23" stroke="url(#bg)" stroke-width="0.10" stroke-linejoin="round">2</text>
<text x="1687.5" y="961.58" font-size="34" textLength="23.4" lengthAdjust="spacingAndGlyphs" stroke="url(#bg)" stroke-width="0.15" stroke-linejoin="round">C</text>
<text x="1711.1999999999998" y="969.75" font-size="23" stroke="url(#bg)" stroke-width="0.10" stroke-linejoin="round">2</text>
<text x="1573.2" y="1124.67" font-size="33" textLength="74" lengthAdjust="spacingAndGlyphs" stroke="url(#bg)" stroke-width="0.15" stroke-linejoin="round">10nF</text><rect x="1574.30" y="1121.37" width="7.14" height="4.30" fill="url(#bg)"/><rect x="1584.16" y="1121.37" width="6.89" height="4.30" fill="url(#bg)"/>
<text x="1414.65" y="979.5" font-size="44.1" text-anchor="middle" textLength="75.2" lengthAdjust="spacingAndGlyphs" stroke="url(#bg)" stroke-width="0.20" stroke-linejoin="round">555</text>
<text x="1259.75" y="975.68" font-size="23.8" text-anchor="middle" textLength="45.4" lengthAdjust="spacingAndGlyphs" stroke="url(#bg)" stroke-width="0.15" stroke-linejoin="round">OUT</text>
<text x="1305.1" y="881.05" font-size="22.2" text-anchor="middle" stroke="url(#bg)" stroke-width="0.10" stroke-linejoin="round">1</text><rect x="1299.27" y="878.54" width="5.29" height="3.51" fill="url(#bg)"/><rect x="1306.42" y="878.54" width="5.12" height="3.51" fill="url(#bg)"/>
<text x="1305.1" y="928.95" font-size="22.2" text-anchor="middle" stroke="url(#bg)" stroke-width="0.10" stroke-linejoin="round">2</text>
<text x="1305.1" y="972.25" font-size="22.2" text-anchor="middle" stroke="url(#bg)" stroke-width="0.10" stroke-linejoin="round">3</text>
<text x="1305.1" y="1016.85" font-size="22.2" text-anchor="middle" stroke="url(#bg)" stroke-width="0.10" stroke-linejoin="round">4</text>
<text x="1523.9" y="881.0" font-size="22.2" text-anchor="middle">8</text>
<text x="1523.9" y="928.5" font-size="22.2" text-anchor="middle">7</text>
<text x="1523.9" y="971.6" font-size="22.2" text-anchor="middle">6</text>
<text x="1523.9" y="1016.1" font-size="22.2" text-anchor="middle">5</text>
<text x="785.4" y="1235.88" font-size="33" textLength="53.6" lengthAdjust="spacingAndGlyphs" stroke="url(#bg)" stroke-width="0.15" stroke-linejoin="round">1nF</text><rect x="786.39" y="1232.68" width="6.90" height="4.20" fill="url(#bg)"/><rect x="795.90" y="1232.68" width="6.66" height="4.20" fill="url(#bg)"/>
</g>
<text x="638.6" y="768.15" font-size="41" fill="#8b0000" textLength="186" lengthAdjust="spacingAndGlyphs" stroke="url(#bg)" stroke-width="0.30" stroke-linejoin="round">747.06 ms</text>
<text x="1320.2" y="768.15" font-size="41" fill="#8b0000" textLength="187" lengthAdjust="spacingAndGlyphs" stroke="url(#bg)" stroke-width="0.30" stroke-linejoin="round">516.35 ms</text><rect x="1344.07" y="764.21" width="8.62" height="4.94" fill="url(#bg)"/><rect x="1355.93" y="764.21" width="8.31" height="4.94" fill="url(#bg)"/>
<g fill="none" stroke="#000" stroke-width="2.5">
<path d="M1441.5,1181 V1518.8 H1923"/>
<path d="M1437.4,1185.8 L1441.5,1178.8 L1445.6,1185.8 M1918.4,1514.5 L1925.2,1518.8 L1918.4,1523.1" stroke-width="2.9" stroke-linecap="round" stroke-linejoin="miter"/>
</g>
<g fill="none" stroke="#000" stroke-width="2.1">
<path d="M1456,1214.4 H1600.4 V1299.2 H1635.5 V1214.4 H1888.3"/>
<path d="M1457,1395 H1602 V1311 H1699.7 V1395 H1888.3"/>
<path d="M1456,1494 H1700.6 V1409.4 H1868.6 V1494 H1888.3"/>
</g>
<text x="1425.2" y="1169.6" font-size="16.7" fill="#1a1a1a" textLength="33.6" lengthAdjust="spacingAndGlyphs" stroke="url(#bg)" stroke-width="0.20" stroke-linejoin="round">Volts</text>
<text x="1935.4" y="1526.1" font-size="16.7" fill="#1a1a1a" textLength="34.8" lengthAdjust="spacingAndGlyphs" stroke="url(#bg)" stroke-width="0.20" stroke-linejoin="round">Time</text>
<text x="1464.1" y="1237.8" font-size="16.9" fill="#1f9624" textLength="89.2" lengthAdjust="spacingAndGlyphs" stroke="url(#bg)" stroke-width="0.20" stroke-linejoin="round">TACT Switch</text>
<text x="1463.9" y="1380.6" font-size="16.9" fill="#1f9624" textLength="39" lengthAdjust="spacingAndGlyphs" stroke="url(#bg)" stroke-width="0.20" stroke-linejoin="round">LED1</text><rect x="1494.00" y="1378.53" width="4.24" height="3.07" fill="url(#bg)"/><rect x="1499.42" y="1378.53" width="4.12" height="3.07" fill="url(#bg)"/>
<text x="1463.9" y="1480.1" font-size="16.9" fill="#1f9624" textLength="38.8" lengthAdjust="spacingAndGlyphs" stroke="url(#bg)" stroke-width="0.20" stroke-linejoin="round">LED2</text>
<rect x="389" y="959" width="85.5" height="84" rx="11" fill="#777" opacity="0.55" filter="url(#sh)"/>
<rect x="388.5" y="958" width="86" height="84" rx="11" fill="url(#swb)"/>
<path d="M431.3,955 V963 M431.3,1035 V1045" stroke="#000" stroke-width="3.6"/>
<rect x="392.6" y="960.6" width="77.6" height="76.4" rx="5" fill="#000"/>
<rect x="395" y="964" width="72.8" height="69.6" rx="9" fill="#e3e3e3"/>
<rect x="397" y="964" width="16" height="16" rx="5" fill="#000" filter="url(#b1)"/>
<rect x="397.6" y="964.6" width="14.8" height="14.8" rx="4.5" fill="#000"/>
<path d="M403,968.6 h2.2 a3.2,3.2 0 0 1 0,6.6 h-2.4" fill="none" stroke="#4d4d4d" stroke-width="1"/>
<rect x="452.6" y="964" width="16" height="16" rx="5" fill="#000" filter="url(#b1)"/>
<rect x="453.20000000000005" y="964.6" width="14.8" height="14.8" rx="4.5" fill="#000"/>
<path d="M458.6,968.6 h2.2 a3.2,3.2 0 0 1 0,6.6 h-2.4" fill="none" stroke="#4d4d4d" stroke-width="1"/>
<rect x="397" y="1017.6" width="16" height="16" rx="5" fill="#000" filter="url(#b1)"/>
<rect x="397.6" y="1018.2" width="14.8" height="14.8" rx="4.5" fill="#000"/>
<path d="M403,1022.2 h2.2 a3.2,3.2 0 0 1 0,6.6 h-2.4" fill="none" stroke="#4d4d4d" stroke-width="1"/>
<rect x="452.6" y="1017.6" width="16" height="16" rx="5" fill="#000" filter="url(#b1)"/>
<rect x="453.20000000000005" y="1018.2" width="14.8" height="14.8" rx="4.5" fill="#000"/>
<path d="M458.6,1022.2 h2.2 a3.2,3.2 0 0 1 0,6.6 h-2.4" fill="none" stroke="#4d4d4d" stroke-width="1"/>
<circle cx="431.5" cy="1000" r="25.5" fill="#bdbdbd" opacity="0.7" filter="url(#b1)"/>
<circle cx="431.5" cy="998.6" r="25" fill="url(#swc)"/>
<rect x="410.3" y="976.3" width="42.6" height="42.6" rx="11" fill="#000" filter="url(#b1)"/>
<rect x="411" y="977" width="41.2" height="41.2" rx="10.5" fill="#000"/>
<clipPath id="ledring0"><path clip-rule="evenodd" d="M529.5,1245.8 a38.2,38.2 0 1 0 76.4,0 a38.2,38.2 0 1 0 -76.4,0 Z M534.7,1245.8 a33,33 0 1 0 66,0 a33,33 0 1 0 -66,0 Z"/></clipPath>
<circle cx="567.7" cy="1245.8" r="39.5" fill="#7f7f7f"/>
<g clip-path="url(#ledring0)">
<rect x="527.7" y="1205.8" width="80" height="80" fill="#000"/>
<g filter="url(#b1)">
<ellipse cx="567.7" cy="1206.8" rx="24" ry="6.6" fill="#969696"/>
<ellipse cx="567.7" cy="1210.0" rx="12" ry="2.2" fill="#b4b4b4"/>
<ellipse cx="567.7" cy="1284.8" rx="24" ry="6.6" fill="#989898"/>
<ellipse cx="567.7" cy="1282.0" rx="15" ry="3" fill="#f6f6f6"/>
<ellipse cx="528.7" cy="1245.8" rx="6.6" ry="24" fill="#949494"/>
<ellipse cx="531.7" cy="1245.8" rx="2" ry="12" fill="#b2b2b2"/>
<ellipse cx="606.7" cy="1245.8" rx="6.6" ry="24" fill="#949494"/>
<ellipse cx="603.7" cy="1245.8" rx="2" ry="12" fill="#b2b2b2"/>
</g></g>
<circle cx="567.7" cy="1245.8" r="38.5" fill="none" stroke="#7b7b7b" stroke-width="2.1"/>
<circle cx="567.7" cy="1245.8" r="33.3" fill="url(#ledc)"/>
<clipPath id="ledring1"><path clip-rule="evenodd" d="M1214.1000000000001,1245.8 a38.2,38.2 0 1 0 76.4,0 a38.2,38.2 0 1 0 -76.4,0 Z M1219.3000000000002,1245.8 a33,33 0 1 0 66,0 a33,33 0 1 0 -66,0 Z"/></clipPath>
<circle cx="1252.3000000000002" cy="1245.8" r="39.5" fill="#7f7f7f"/>
<g clip-path="url(#ledring1)">
<rect x="1212.3000000000002" y="1205.8" width="80" height="80" fill="#000"/>
<g filter="url(#b1)">
<ellipse cx="1252.3000000000002" cy="1206.8" rx="24" ry="6.6" fill="#969696"/>
<ellipse cx="1252.3000000000002" cy="1210.0" rx="12" ry="2.2" fill="#b4b4b4"/>
<ellipse cx="1252.3000000000002" cy="1284.8" rx="24" ry="6.6" fill="#989898"/>
<ellipse cx="1252.3000000000002" cy="1282.0" rx="15" ry="3" fill="#f6f6f6"/>
<ellipse cx="1213.3000000000002" cy="1245.8" rx="6.6" ry="24" fill="#949494"/>
<ellipse cx="1216.3000000000002" cy="1245.8" rx="2" ry="12" fill="#b2b2b2"/>
<ellipse cx="1291.3000000000002" cy="1245.8" rx="6.6" ry="24" fill="#949494"/>
<ellipse cx="1288.3000000000002" cy="1245.8" rx="2" ry="12" fill="#b2b2b2"/>
</g></g>
<circle cx="1252.3000000000002" cy="1245.8" r="38.5" fill="none" stroke="#7b7b7b" stroke-width="2.1"/>
<circle cx="1252.3000000000002" cy="1245.8" r="33.3" fill="url(#ledc)"/>
</svg>


</body></html>
